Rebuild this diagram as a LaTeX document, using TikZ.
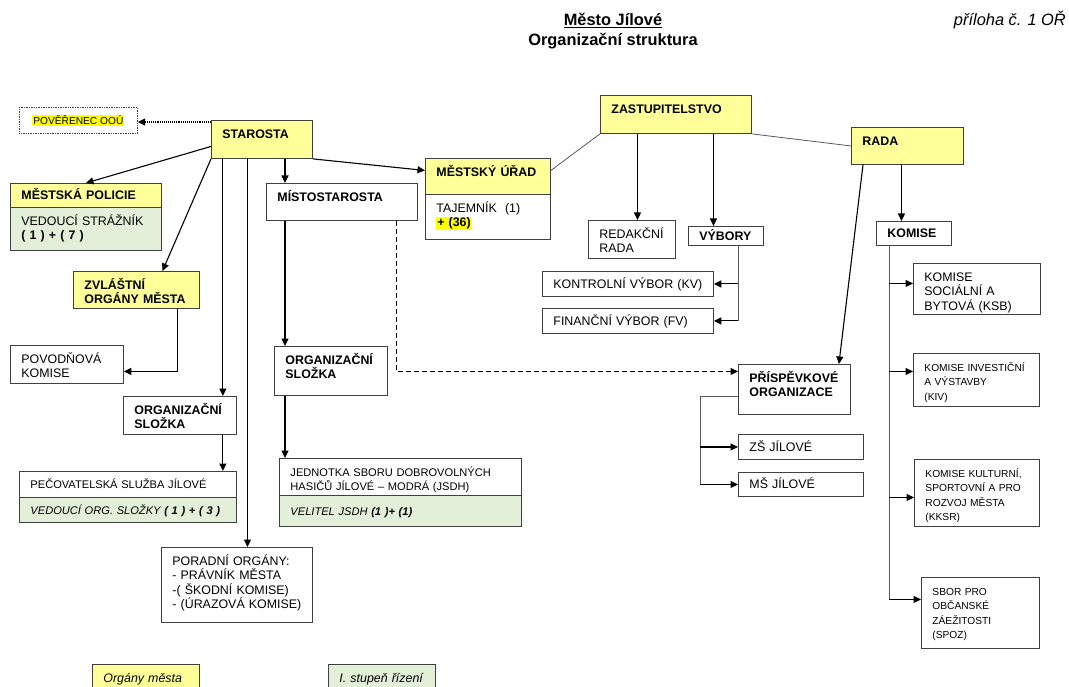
\documentclass[tikz,border=0pt]{standalone}
\usepackage{fontspec}
\setmainfont{Liberation Sans}
\usetikzlibrary{arrows.meta}
\definecolor{orgyellow}{HTML}{FFFF99}
\definecolor{orggreen}{HTML}{E2EFD9}
\definecolor{marker}{HTML}{FFFF00}
\definecolor{edge}{HTML}{404040}
\newcommand{\orgbold}{\fontsize{12.4}{14.3}\selectfont\bfseries}
\newcommand{\orgtext}{\fontsize{12.4}{14.3}\selectfont}
\newcommand{\orgmid}{\fontsize{11.1}{14.3}\selectfont}
\newcommand{\orgsmall}{\fontsize{10.2}{14.3}\selectfont}
\newcommand{\orgtitle}{\fontsize{16.4}{19}\selectfont\bfseries}
\newcommand{\orgnote}{\fontsize{16.4}{19}\selectfont\itshape}
\newcommand{\marktext}[1]{{\setlength{\fboxsep}{0.8pt}\colorbox{marker}{#1}}}

\begin{document}
\begin{tikzpicture}[x=1pt, y=-1pt, >={Triangle[length=7.5pt,width=7pt]},
    box/.style={draw=edge, line width=0.9pt, anchor=north west, align=left, inner xsep=0pt, inner ysep=7pt, text height=11pt, execute at begin node={\leftskip=11pt\relax}},
    row/.style={box, inner ysep=0pt, text height=8.9pt, text depth=0pt},
    centred/.style={align=center, execute at begin node={}},
    organ/.style={fill=orgyellow},
    level/.style={fill=orggreen},
    link/.style={->, line width=1.1pt},
    tie/.style={draw=black!65, line width=0.8pt}]
      \fill[white] (0,0) rectangle (1069,687);
      \useasboundingbox (0,0) rectangle (1069,687);
      \node[font=\orgtitle, anchor=base, inner sep=0pt] (town) at (613,26) {\underline{Město Jílové}};
      \node[font=\orgtitle, anchor=base, inner sep=0pt] (structure) at (613,46) {Organizační struktura};
      \node[font=\orgnote, anchor=base east, inner sep=0pt] (annex) at (1066,26) {příloha č. 1 OŘ};
      \node[draw=edge, densely dotted, line width=0.7pt, anchor=north west, minimum width=118pt, minimum height=26pt, inner sep=0pt, font=\orgsmall] (poverenec) at (19,107) {\marktext{POVĚŘENEC OOÚ}};
      \node[box, organ, font=\orgbold, text width=101pt, text depth=13pt] (starosta) at (211,120) {STAROSTA};
      \node[row, organ, centred, font=\orgbold, text width=151pt, minimum height=24pt] (policehead) at (10,183) {MĚSTSKÁ POLICIE};
      \node[box, level, font=\orgtext, text width=151pt, text depth=18pt] (policebody) at (10,207) {VEDOUCÍ STRÁŽNÍK\\\textbf{( 1 ) + ( 7 )}};
      \node[box, organ, font=\orgbold, text width=126pt, text depth=12pt] (zvlastni) at (73,271) {ZVLÁŠTNÍ\\ORGÁNY MĚSTA};
      \node[box, font=\orgbold, text width=151pt, text depth=12pt] (mistostarosta) at (266,183) {MÍSTOSTAROSTA};
      \node[box, organ, font=\orgbold, text width=125pt, text depth=11pt] (uradhead) at (425,158) {MĚSTSKÝ ÚŘAD};
      \node[box, font=\orgtext, text width=125pt, text depth=20pt] (uradbody) at (425,194) {TAJEMNÍK~~(1)\\\marktext{\textbf{+ (36)}}};
      \node[box, organ, font=\orgbold, text width=151pt, text depth=13pt] (zastup) at (600,95) {ZASTUPITELSTVO};
      \node[box, organ, centred, font=\orgbold, text width=112pt, text depth=12pt] (rada) at (851,127) {RADA};
      \node[box, font=\orgtext, text width=87pt, text depth=13pt] (redakcni) at (588,220) {REDAKČNÍ\\RADA};
      \node[row, font=\orgbold, text width=75pt, minimum height=19pt] (vybory) at (688,226) {VÝBORY};
      \node[row, font=\orgtext, text width=171pt, minimum height=25pt] (kv) at (542,271) {KONTROLNÍ VÝBOR (KV)};
      \node[row, font=\orgtext, text width=171pt, minimum height=25pt] (fv) at (542,308) {FINANČNÍ VÝBOR (FV)};
      \node[row, font=\orgbold, text width=75pt, minimum height=24pt] (komise) at (876,221) {KOMISE};
      \node[box, font=\orgtext, text width=127pt, text depth=26pt] (ksb) at (913,263) {KOMISE\\SOCIÁLNÍ A\\BYTOVÁ (KSB)};
      \node[box, font=\orgsmall, text width=126pt, text depth=28pt] (kiv) at (913,353) {KOMISE INVESTIČNÍ\\A VÝSTAVBY\\(KIV)};
      \node[box, font=\orgsmall, text width=125pt, text depth=42pt] (kksr) at (914,459) {KOMISE KULTURNÍ,\\SPORTOVNÍ A PRO\\ROZVOJ MĚSTA\\(KKSR)};
      \node[box, font=\orgsmall, text width=118pt, text depth=46pt] (spoz) at (921,577) {SBOR PRO\\OBČANSKÉ\\ZÁEŽITOSTI\\(SPOZ)};
      \node[box, font=\orgbold, text width=112pt, text depth=25pt] (prisp) at (738,364) {PŘÍSPĚVKOVÉ\\ORGANIZACE};
      \node[row, font=\orgtext, text width=125pt, minimum height=25pt] (zs) at (738,434) {ZŠ JÍLOVÉ};
      \node[row, font=\orgtext, text width=125pt, minimum height=24pt] (ms) at (738,472) {MŠ JÍLOVÉ};
      \node[box, font=\orgtext, text width=113pt, text depth=13pt] (povodnova) at (10,345) {POVODŇOVÁ\\KOMISE};
      \node[box, font=\orgbold, text width=113pt, text depth=13pt] (orgleft) at (123,396) {ORGANIZAČNÍ\\SLOŽKA};
      \node[box, font=\orgbold, text width=113pt, text depth=24pt] (orgright) at (274,346) {ORGANIZAČNÍ\\SLOŽKA};
      \node[row, font=\orgmid, text width=217pt, minimum height=26pt] (pecovhead) at (19,471) {PEČOVATELSKÁ SLUŽBA JÍLOVÉ};
      \node[row, level, font=\orgmid\itshape, text width=217pt, minimum height=25pt] (pecovbody) at (19,497) {VEDOUCÍ ORG. SLOŽKY \textbf{( 1 ) + ( 3 )}};
      \node[box, font=\orgmid, text width=242pt, text depth=12pt] (jsdhhead) at (279,458) {JEDNOTKA SBORU DOBROVOLNÝCH\\HASIČŮ JÍLOVÉ – MODRÁ (JSDH)};
      \node[row, level, font=\orgmid\itshape, text width=242pt, minimum height=31pt] (jsdhbody) at (279,495) {VELITEL JSDH \textbf{(1 )+ (1)}};
      \node[box, font=\orgtext, text width=151pt, text depth=50pt] (poradni) at (161,547) {PORADNÍ ORGÁNY:\\- PRÁVNÍK MĚSTA\\-( ŠKODNÍ KOMISE)\\- (ÚRAZOVÁ KOMISE)};
      \node[box, organ, font=\orgtext\itshape, text width=107pt, text depth=5pt] (legendorgan) at (92,664) {Orgány města};
      \node[box, level, font=\orgtext\itshape, text width=107pt, text depth=5pt] (legendlevel) at (328,664) {I. stupeň řízení};
      \coordinate (dotstart) at ([yshift=-2pt]starosta.north west);
      \coordinate (xorg) at ([xshift=-14pt]orgleft.north east);
      \coordinate (xpor) at ([xshift=10.5pt]poradni.north);
      \coordinate (xmis) at ([xshift=19pt]mistostarosta.north west);
      \coordinate (xpov) at ([xshift=-22pt]zvlastni.south east);
      \coordinate (xdash) at ([xshift=-21pt]mistostarosta.south east);
      \coordinate (xred) at ([xshift=5.5pt]redakcni.north);
      \coordinate (xvyb) at ([xshift=-12.5pt]vybory.north);
      \coordinate (xvyb2) at ([xshift=12.5pt]vybory.south);
      \coordinate (xkom) at ([xshift=-12.5pt]komise.north);
      \coordinate (xkom2) at ([xshift=13pt]komise.south west);
      \coordinate (xpri) at ([xshift=-38pt]ms.west);
      \coordinate (tksb) at ([yshift=5.5pt]ksb.west);
      \coordinate (tkiv) at ([yshift=8.5pt]kiv.west);
      \coordinate (tkksr) at ([yshift=-4.5pt]kksr.west);
      \coordinate (tspoz) at ([yshift=13.5pt]spoz.west);
      \draw[link, densely dotted] (dotstart) -- (dotstart -| poverenec.east);
      \draw[link] ([yshift=-7pt]starosta.west) -- (policehead.north);
      \draw[link] (starosta.south west) -- ([xshift=26pt]zvlastni.north);
      \draw[link] (xorg |- starosta.south) -- (xorg);
      \draw[link] (xpor |- starosta.south) -- (xpor);
      \draw[link] (xmis |- starosta.south) -- (xmis);
      \draw[link] (starosta.south east) -- ([yshift=6pt]uradhead.west);
      \draw[link] (xmis |- mistostarosta.south) -- (xmis |- orgright.north);
      \draw[link] (xmis |- orgright.south) -- (xmis |- jsdhhead.north);
      \draw[link] (xorg |- orgleft.south) -- (xorg |- pecovhead.north);
      \draw[link] (xpov) |- ([yshift=-7pt]povodnova.east);
      \draw[link, dash pattern=on 5pt off 3pt] (xdash) |- ([yshift=18pt]prisp.west);
      \draw[tie] ([yshift=6pt]uradhead.east) -- (zastup.south west);
      \draw[tie] (zastup.south east) -- (rada.west);
      \draw[link] (xred |- zastup.south) -- (xred);
      \draw[link] (xvyb |- zastup.south) -- (xvyb);
      \draw[tie] (xvyb2) -- (xvyb2 |- fv.east);
      \draw[link] (xvyb2 |- kv.east) -- (kv.east);
      \draw[link] (xvyb2 |- fv.east) -- (fv.east);
      \draw[link] (xkom |- rada.south) -- (xkom);
      \draw[link] ([xshift=12pt]rada.south west) -- ([xshift=-12pt]prisp.north east);
      \draw[tie] (xkom2) -- (xkom2 |- tspoz);
      \draw[link] (xkom2 |- tksb) -- (tksb);
      \draw[link] (xkom2 |- tkiv) -- (tkiv);
      \draw[link] (xkom2 |- tkksr) -- (tkksr);
      \draw[link] (xkom2 |- tspoz) -- (tspoz);
      \draw[tie] ([yshift=-7pt]prisp.west) -| (xpri);
      \draw[link] (xpri |- zs.west) -- (zs.west);
      \draw[link] (xpri) -- (ms.west);
    \end{tikzpicture}
\end{document}
